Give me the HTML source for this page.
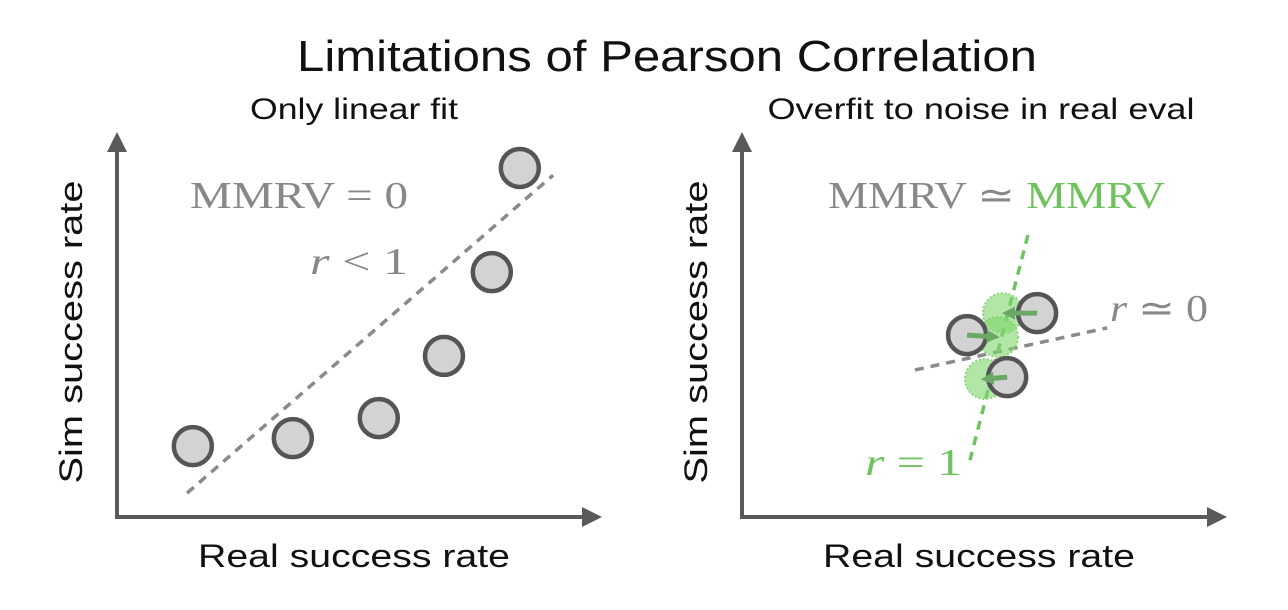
<!DOCTYPE html>
<html><head><meta charset="utf-8"><style>
body{margin:0;background:#fff;}
svg{display:block;font-family:"Liberation Sans",sans-serif;}
.serif{font-family:"Liberation Serif",serif;}
</style></head><body>
<svg id="c" width="1288" height="610" viewBox="0 0 1288 610">
<defs>
<marker id="ah" viewBox="0 0 10 10" refX="5" refY="5" markerWidth="5" markerHeight="5" orient="auto-start-reverse"><path d="M0,0L10,5L0,10z" fill="#5a5a5a"/></marker>
<marker id="ga" viewBox="0 0 10 10" refX="2" refY="5" markerWidth="2.6" markerHeight="2.6" orient="auto"><path d="M0,0L10,5L0,10z" fill="#6aa866"/></marker>
</defs>
<text x="667" y="71" font-size="44" textLength="740" lengthAdjust="spacingAndGlyphs" text-anchor="middle" fill="#111">Limitations of Pearson Correlation</text>
<text x="354" y="119" font-size="30" textLength="208" lengthAdjust="spacingAndGlyphs" text-anchor="middle" fill="#111">Only linear fit</text>
<text x="981" y="119" font-size="30" textLength="427" lengthAdjust="spacingAndGlyphs" text-anchor="middle" fill="#111">Overfit to noise in real eval</text>
<g id="L"></g>
<g id="R"></g>
<text x="190" y="208" font-size="38" textLength="218" lengthAdjust="spacingAndGlyphs" fill="#888" class="serif">MMRV = 0</text>
<text x="310" y="274" font-size="38" textLength="98" lengthAdjust="spacingAndGlyphs" fill="#888" class="serif"><tspan font-style="italic">r</tspan> &lt; 1</text>
<text x="828" y="208" font-size="38" textLength="337" lengthAdjust="spacingAndGlyphs" class="serif"><tspan fill="#888">MMRV ≃ </tspan><tspan fill="#6fc35f">MMRV</tspan></text>
<text x="1110" y="321" font-size="38" textLength="98" lengthAdjust="spacingAndGlyphs" fill="#888" class="serif"><tspan font-style="italic">r</tspan> ≃ 0</text>
<text x="865" y="475" font-size="38" textLength="97" lengthAdjust="spacingAndGlyphs" fill="#6fc35f" class="serif"><tspan font-style="italic">r</tspan> = 1</text>
</svg>
<script>
const leftX=[1.57,3.64,5.42,6.77,7.76,8.34];
const leftY=[1.87,2.08,2.61,4.25,6.46,9.21];
const leftFitX=[1.45,9.03];
const leftFitY=[0.63,9.02];
const rightGrayX=[4.66,6.11,5.49];
const rightGrayY=[4.80,5.38,3.69];
const rightGreenX=[5.30,5.40,5.03];
const rightGreenY=[4.75,5.38,3.64];
const rightGreenFitX=[5.92,4.72];
const rightGreenFitY=[7.44,1.50];
const rightGrayFitX=[3.58,7.56];
const rightGrayFitY=[3.88,4.99];
const NS="http://www.w3.org/2000/svg";
function mk(p,t,a){const e=document.createElementNS(NS,t);for(const k in a)e.setAttribute(k,a[k]);p.appendChild(e);return e;}
function sx(ox){return v=>ox+v*48.3;}
const sy=v=>517-v*37.9;
function axes(g,ox,name){
 const y=mk(g,'line',{x1:ox,y1:517,x2:ox,y2:142,stroke:'#5a5a5a','stroke-width':4,'marker-end':'url(#ah)'});
 
 
 const x=mk(g,'line',{x1:ox-2,y1:517,x2:ox+475,y2:517,stroke:'#5a5a5a','stroke-width':4,'marker-end':'url(#ah)'});
 
 
 const xt=mk(g,'text',{x:ox+237,y:567,'font-size':32,'text-anchor':'middle',fill:'#111',textLength:312,lengthAdjust:'spacingAndGlyphs'});
 xt.textContent='Real success rate';
 
 
 const yt=mk(g,'text',{x:0,y:0,'font-size':32,'text-anchor':'middle',fill:'#111',textLength:303,lengthAdjust:'spacingAndGlyphs',transform:`translate(${ox-35},332) rotate(-90)`});
 yt.textContent='Sim success rate';
 
 
}
function dash(g,X,Y,fx,col,name){
 const l=mk(g,'line',{x1:fx(X[0]),y1:sy(Y[0]),x2:fx(X[1]),y2:sy(Y[1]),stroke:col,'stroke-width':3.5,'stroke-dasharray':'9 7'});
 
 
}
function dot(g,cx,cy,name){
 const c=mk(g,'circle',{cx:cx,cy:cy,r:19,fill:'#d3d3d3',stroke:'#555','stroke-width':4.5});
 
 
}
const L=document.getElementById('L'),R=document.getElementById('R');
const xl=sx(117),xr=sx(742);
axes(L,117,'left');
axes(R,742,'right');
dash(L,leftFitX,leftFitY,xl,'#8a8a8a','left-fit-line');
leftX.forEach((v,i)=>dot(L,xl(v),sy(leftY[i]),'left-point'));
dash(R,rightGrayFitX,rightGrayFitY,xr,'#8a8a8a','gray-fit-line');
dash(R,rightGreenFitX,rightGreenFitY,xr,'#6fc35f','green-fit-line');
rightGreenX.forEach((v,i)=>{
 const c=mk(R,'circle',{cx:xr(v),cy:sy(rightGreenY[i]),r:20,fill:'#7fd56a','fill-opacity':0.6,stroke:'#8fd67e','stroke-width':2,'stroke-dasharray':'2 2'});
 
 
});
rightGrayX.forEach((v,i)=>dot(R,xr(v),sy(rightGrayY[i]),'gray-point'));
rightGrayX.forEach((v,i)=>{
 const x1=xr(v),y1=sy(rightGrayY[i]),x2=xr(rightGreenX[i]),y2=sy(rightGreenY[i]);
 const a=mk(R,'line',{x1:x1,y1:y1,x2:x1+(x2-x1)*0.72,y2:y1+(y2-y1)*0.72,stroke:'#6aa866','stroke-width':5,'marker-end':'url(#ga)'});
 
 
});
</script>
</body></html>
